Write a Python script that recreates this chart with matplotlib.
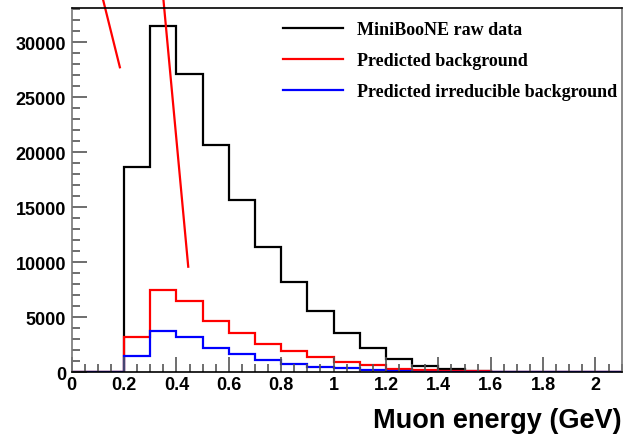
import numpy as np
import matplotlib.pyplot as plt
from matplotlib.ticker import MultipleLocator

# bins of 0.1 GeV from 0 to 2.1
edges = np.round(np.arange(22) * 0.1, 1)
raw_data = [0, 0, 18700, 31500, 27100, 20700, 15700, 11400, 8200, 5550, 3550,
            2180, 1210, 600, 300, 120, 60, 40, 0, 0, 0]
pred_bkg = [0, 0, 3240, 7500, 6450, 4690, 3570, 2570, 1910, 1400, 960,
            660, 300, 240, 100, 80, 50, 0, 0, 0, 0]
pred_irr = [0, 0, 1480, 3730, 3240, 2240, 1660, 1120, 790, 510, 360,
            180, 90, 50, 30, 0, 0, 0, 0, 0, 0]
labels = ['MiniBooNE raw data', 'Predicted background', 'Predicted irreducible background']

# two red pen strokes drawn on the figure
stroke1_x = [0.119, 0.184]
stroke1_y = [33950, 27730]
stroke2_x = [0.350, 0.445]
stroke2_y = [33950, 9600]

fig = plt.figure(figsize=(6.25, 4.35), dpi=100)
ax = fig.add_axes([0.1147, 0.1418, 0.88, 0.8368])

ax.stairs(raw_data, edges, color='black', lw=1.6, label=labels[0])
ax.stairs(pred_bkg, edges, color='red', lw=1.6, label=labels[1])
ax.stairs(pred_irr, edges, color='blue', lw=1.6, label=labels[2])

ax.plot(stroke1_x, stroke1_y, color='red', lw=1.6, clip_on=False)
ax.plot(stroke2_x, stroke2_y, color='red', lw=1.6, clip_on=False)

ax.set_xlim(0, 2.1)
ax.set_ylim(0, 33090)
ax.xaxis.set_major_locator(MultipleLocator(0.2))
ax.xaxis.set_minor_locator(MultipleLocator(0.05))
ax.yaxis.set_major_locator(MultipleLocator(5000))
ax.yaxis.set_minor_locator(MultipleLocator(1000))
ax.xaxis.set_major_formatter(plt.FuncFormatter(lambda v, p: '%g' % round(v, 1)))

ax.tick_params(which='both', direction='in', top=False, right=False,
               color='#555555', width=1.2)
ax.tick_params(which='major', length=11, labelsize=13)
ax.tick_params(which='minor', length=6)
ax.tick_params(axis='y', pad=4)
ax.tick_params(axis='x', pad=3)
for lab in ax.get_xticklabels() + ax.get_yticklabels():
    lab.set_fontweight('bold')
    lab.set_fontfamily('Liberation Sans')

for side in ['left', 'right']:
    ax.spines[side].set_color('#777777')
    ax.spines[side].set_linewidth(1.2)
for side in ['top', 'bottom']:
    ax.spines[side].set_color('black')
    ax.spines[side].set_linewidth(1.2)

ax.set_xlabel('Muon energy (GeV)', fontsize=19.5, fontweight='bold',
              family='Liberation Sans', loc='right', labelpad=10)

leg = ax.legend(loc='upper right', frameon=False,
                prop={'family': 'Liberation Serif', 'weight': 'bold', 'size': 13},
                handlelength=3.3, handletextpad=0.78, labelspacing=0.77,
                bbox_to_anchor=(0.9915, 0.964), borderaxespad=0, borderpad=0)
for h in leg.get_lines():
    h.set_linewidth(1.6)

fig.savefig('out.png', dpi=100)
